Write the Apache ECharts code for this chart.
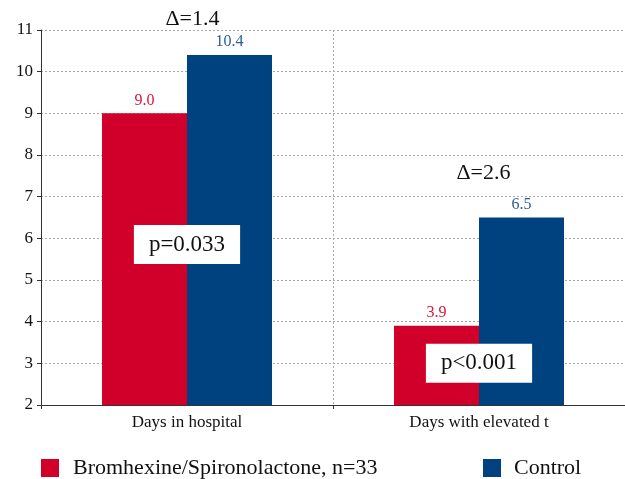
<!DOCTYPE html>
<html>
<head>
<meta charset="utf-8">
<script src="https://cdn.jsdelivr.net/npm/echarts@6/dist/echarts.min.js"></script>
<style>
  html, body { margin: 0; padding: 0; background: #fff; }
  #chart { width: 625px; height: 479px; }
</style>
</head>
<body>
<div id="chart"></div>
<script>
const categories = ['Days in hospital', 'Days with elevated t']
const treatedName = 'Bromhexine/Spironolactone, n=33'
const controlName = 'Control'
const treatedValues = [9.0, 3.9]
const controlValues = [10.4, 6.5]
const deltaLabels = ['Δ=1.4', 'Δ=2.6']
const deltaLevels = [11, 7.6]
const pLabels = ['p=0.033', 'p<0.001']
const pLevels = [5.85, 3.0]

const serif = '"Liberation Serif", "DejaVu Serif", serif'
const RED = '#d0002a'
const BLUE = '#00427f'

const chart = echarts.init(document.getElementById('chart'), null, { renderer: 'canvas' })

chart.setOption({
  animation: false,
  textStyle: { fontFamily: serif },
  grid: {
    left: 41,
    right: 0,
    top: 30,
    bottom: 74
  },
  legend: [
    {
      left: 41,
      top: 457,
      padding: 0,
      itemWidth: 18,
      itemHeight: 18,
      icon: 'rect',
      textStyle: { fontFamily: serif, fontSize: 22, color: '#111', padding: [0, 0, 0, 9] },
      data: [treatedName]
    },
    {
      left: 483,
      top: 457,
      padding: 0,
      itemWidth: 18,
      itemHeight: 18,
      icon: 'rect',
      textStyle: { fontFamily: serif, fontSize: 22, color: '#111', padding: [0, 0, 0, 8] },
      data: [controlName]
    }
  ],
  xAxis: {
    type: 'category',
    data: categories,
    axisLine: { lineStyle: { color: '#333', width: 1 } },
    axisTick: { show: true, length: 4, lineStyle: { color: '#333' } },
    axisLabel: { fontFamily: serif, fontSize: 17, color: '#111', margin: 9 },
    splitLine: { show: true, lineStyle: { color: '#aaa', type: [2, 2] } }
  },
  yAxis: {
    type: 'value',
    min: 2,
    max: 11,
    interval: 1,
    axisLine: { show: true, lineStyle: { color: '#333', width: 1 } },
    axisTick: { show: true, length: 4, lineStyle: { color: '#333' } },
    axisLabel: { fontFamily: serif, fontSize: 17, color: '#111', margin: 8 },
    splitLine: { show: true, lineStyle: { color: '#aaa', type: [2, 2] } }
  },
  series: [
    {
      name: treatedName,
      type: 'bar',
      data: treatedValues,
      barWidth: 85,
      barGap: '0%',
      itemStyle: { color: RED },
      label: {
        show: true,
        position: 'top',
        distance: 5,
        fontFamily: serif,
        fontSize: 16,
        color: '#d4163a',
        formatter: p => p.value.toFixed(1)
      },
      markPoint: {
        symbol: 'rect',
        symbolSize: 0,
        z: 20,
        label: {
          show: true,
          position: 'inside',
          fontFamily: serif,
          fontSize: 23,
          color: '#111',
          backgroundColor: '#fff',
          padding: [8, 15, 8, 15]
        },
        data: pLabels.map((t, i) => ({
          coord: [i, pLevels[i]],
          value: t,
          label: { formatter: t, offset: [85 / 2, 0] }
        }))
      }
    },
    {
      name: controlName,
      type: 'bar',
      data: controlValues,
      barWidth: 85,
      itemStyle: { color: BLUE },
      label: {
        show: true,
        position: 'top',
        distance: 5,
        fontFamily: serif,
        fontSize: 16,
        color: '#2a5d9b',
        formatter: p => p.value.toFixed(1)
      },
      markPoint: {
        symbol: 'rect',
        symbolSize: 0,
        z: 20,
        label: {
          show: true,
          position: 'inside',
          fontFamily: serif,
          fontSize: 22,
          color: '#111'
        },
        data: deltaLabels.map((t, i) => ({
          coord: [i, deltaLevels[i]],
          value: t,
          label: { formatter: t, offset: i === 0 ? [-37, -11] : [-38, 2] }
        }))
      }
    }
  ]
})
</script>
</body>
</html>
